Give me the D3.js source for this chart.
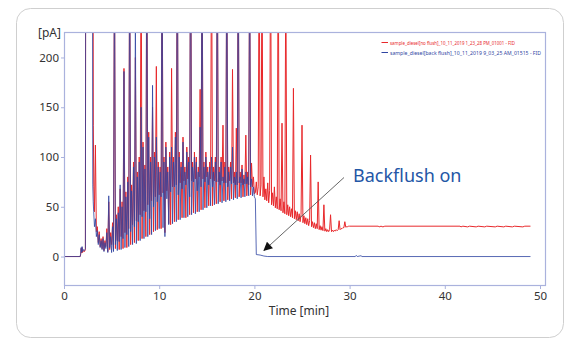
<!DOCTYPE html>
<html><head><meta charset="utf-8">
<script src="https://cdn.jsdelivr.net/npm/d3@7"></script>
<style>body{margin:0;background:#fff;} svg{display:block;font-family:"Noto Sans",sans-serif;}</style>
</head><body><svg id="c" width="582" height="348"></svg>
<script>
// ---------- data ----------
const yTicks = [0, 50, 100, 150, 200];
const xTicks = [0, 10, 20, 30, 40, 50];
const yUnit = "[pA]";
const xTitle = "Time [min]";
const seriesNames = [
  "sample_diesel[no flush]_10_11_2019 1_23_28 PM_01001 - FID",
  "sample_diesel[back flush]_10_11_2019 9_03_25 AM_01515 - FID"
];
const annotation = "Backflush on";

// start of run (time [min], signal [pA]); off-scale solvent peak
const redPre = [[0,0],[1.7,0],[1.75,2],[1.8,8],[1.85,4],[1.9,9],[1.95,4],[2.05,6],[2.15,5],[2.25,7],[2.28,400],[3.04,400],[3.08,132],[3.13,70]];
const bluePre = [[0,0],[1.7,0],[1.75,3],[1.8,9],[1.85,4],[1.9,10],[1.95,5],[2.05,7],[2.15,6],[2.25,8],[2.28,400],[2.98,400],[3.02,72],[3.07,55],[3.12,45]];

// hydrocarbon "forest" 3.2 - 20.0 min
const forestTimes = [
  3.2,3.3,3.4,3.5,3.6,3.7,3.8,3.9,4.0,4.1,
  4.2,4.3,4.4,4.5,4.6,4.7,4.8,4.9,5.0,5.1,
  5.2,5.3,5.4,5.5,5.6,5.7,5.8,5.9,6.0,6.1,
  6.2,6.3,6.4,6.5,6.6,6.7,6.8,6.9,7.0,7.1,
  7.2,7.3,7.4,7.5,7.6,7.7,7.8,7.9,8.0,8.1,
  8.2,8.3,8.4,8.5,8.6,8.7,8.8,8.9,9.0,9.1,
  9.2,9.3,9.4,9.5,9.6,9.7,9.8,9.9,10.0,10.1,
  10.2,10.3,10.4,10.5,10.6,10.7,10.8,10.9,11.0,11.1,
  11.2,11.3,11.4,11.5,11.6,11.7,11.8,11.9,12.0,12.1,
  12.2,12.3,12.4,12.5,12.6,12.7,12.8,12.9,13.0,13.1,
  13.2,13.3,13.4,13.5,13.6,13.7,13.8,13.9,14.0,14.1,
  14.2,14.3,14.4,14.5,14.6,14.7,14.8,14.9,15.0,15.1,
  15.2,15.3,15.4,15.5,15.6,15.7,15.8,15.9,16.0,16.1,
  16.2,16.3,16.4,16.5,16.6,16.7,16.8,16.9,17.0,17.1,
  17.2,17.3,17.4,17.5,17.6,17.7,17.8,17.9,18.0,18.1,
  18.2,18.3,18.4,18.5,18.6,18.7,18.8,18.9,19.0,19.1,
  19.2,19.3,19.4,19.5,19.6,19.7,19.8,19.9,20.0
];
const redForest = [
  45,112,25,30,14,25,10,18,8,20,
  6,16,10,28,5,55,7,24,12,34,
  6,310,8,42,16,50,7,68,20,55,
  8,189,24,65,9,80,28,320,12,72,
  32,95,14,200,36,85,16,100,42,330,
  18,115,46,92,20,330,52,125,22,100,
  56,150,25,105,60,191,27,95,62,90,
  28,340,64,100,24,115,66,90,33,105,
  32,189,70,100,35,125,72,350,37,105,
  74,95,39,120,76,90,39,110,78,100,
  42,370,76,95,44,105,78,100,45,90,
  80,168,47,340,78,95,49,105,80,90,
  51,95,78,330,51,90,76,100,53,330,
  75,90,55,100,76,132,56,95,74,320,
  57,90,76,95,58,188,74,85,59,129,
  72,320,60,85,74,92,60,82,73,122,
  61,85,72,310,62,94,70,80,63
];
const blueForest = [
  30,38,20,26,12,22,9,16,7,18,
  5,14,8,24,4,61,9,20,4,30,
  5,320,12,38,6,44,15,72,7,50,
  18,186,9,60,22,75,10,330,25,66,
  12,90,30,240,13,80,35,95,16,150,
  40,110,18,88,45,340,20,120,38,95,
  22,172,50,100,26,120,55,90,28,85,
  60,350,29,95,20,110,58,85,32,100,
  65,110,33,95,70,120,35,360,62,100,
  37,90,68,115,39,85,72,105,40,95,
  60,380,42,90,75,100,43,95,66,85,
  45,130,70,350,47,90,75,100,49,85,
  72,90,51,100,70,85,52,95,75,340,
  53,85,72,95,54,80,74,90,55,330,
  70,85,56,90,73,110,57,80,72,85,
  58,330,74,80,59,88,72,78,60,85,
  73,80,61,320,70,78,61,70,60
];

// no-flush run keeps eluting after 20 min
const redTail = [
  [20.1,64],[20.2,75],[20.3,62],[20.4,70],[20.5,330],[20.6,61],[20.7,72],[20.8,320],[20.9,60],[21.0,80],
  [21.1,57],[21.2,68],[21.3,56],[21.4,74],[21.5,54],[21.6,66],[21.7,330],[21.8,52],[21.9,64],[22.0,51],
  [22.1,70],[22.2,49],[22.3,60],[22.4,48],[22.5,330],[22.6,47],[22.7,58],[22.8,46],[22.9,134],[23.0,44],
  [23.1,55],[23.2,43],[23.3,300],[23.4,42],[23.5,52],[23.6,41],[23.7,50],[23.8,40],[23.9,48],[24.0,39],
  [24.1,169],[24.2,38],[24.3,46],[24.4,37],[24.5,45],[24.6,36],[24.7,43],[24.8,35],[24.9,42],[25.0,132],
  [25.1,34],[25.2,41],[25.3,33],[25.4,39],[25.5,32],[25.6,38],[25.7,31],[25.8,36],[25.9,102],[26.0,30],
  [26.1,35],[26.2,29],[26.3,34],[26.4,28],[26.5,33],[26.6,28],[26.7,75],[26.8,27],[26.9,31],[27.0,26.5],
  [27.1,30],[27.2,26],[27.3,52],[27.4,25.5],[27.5,28],[27.6,25],[27.7,27],[27.8,25],[27.9,27],[28.0,42],
  [28.1,25],[28.2,26.5],[28.3,25],[28.4,26.5],[28.5,25.5],[28.6,27],[28.7,26],[28.8,27],[28.9,36],[29.0,27],
  [29.1,28],[29.2,28],[29.3,29],[29.4,29],[29.5,35],[29.6,29.5],[29.7,30],[29.8,30],[29.9,30.5],[30.0,30.5],
  [33.0,30.5],[33.1,29.8],[33.3,30.5],[33.5,29.8],[33.7,30.5],[41.6,30.5],[41.7,29.8],[41.9,30.5],[42.4,29.8],[42.6,30.5],
  [43.3,29.8],[43.5,30.5],[44.2,29.8],[44.4,30.5],[45.3,29.8],[45.5,30.5],[46.2,29.8],[46.4,30.5],[47.1,29.8],[47.3,30.5],
  [48.2,29.8],[48.4,30.5],[49.0,30.5]
];
// backflush run: signal drops at 20.1 min
const blueTail = [[20.1,58],[20.2,2],[20.6,1.5],[21.0,0.5],[21.4,0],[30.6,0],[30.7,1.2],[30.8,0],[31.2,0.8],[31.3,0],[49.0,0]];

// ---------- chart ----------
const svg = d3.select("#c");
const mLeft = 64, mRight = 546, mTop = 32, mBottom = 286;

svg.append("rect").attr("x", 16.5).attr("y", 8.5).attr("width", 547).attr("height", 329)
  .attr("rx", 14).attr("fill", "#fff").attr("stroke", "#cfcfcf").attr("stroke-width", 1);

const x = d3.scaleLinear().domain([0, 50.63]).range([mLeft, mRight]);
const y = d3.scaleLinear().domain([-29.6, 225.6]).range([mBottom, mTop]);

const defs = svg.append("defs");
defs.append("clipPath").attr("id", "clip")
  .append("rect").attr("x", mLeft).attr("y", mTop).attr("width", mRight - mLeft).attr("height", mBottom - mTop);

const axisColor = "#aab2dd";

const gx = svg.append("g").attr("transform", `translate(0,${mBottom})`)
  .call(d3.axisBottom(x).tickValues(xTicks).tickSize(3).tickPadding(3).tickFormat(d3.format("d")));
const gy = svg.append("g").attr("transform", `translate(${mLeft},0)`)
  .call(d3.axisLeft(y).tickValues(yTicks).tickSize(3).tickPadding(2).tickFormat(d3.format("d")));
[gx, gy].forEach(g => {
  g.select(".domain").remove();
  g.selectAll(".tick line").attr("stroke", axisColor);
  g.selectAll(".tick text").attr("fill", "#333").style("font-size", "11.5px").style("font-family", '"Noto Sans",sans-serif');
});

const redData = redPre.concat(forestTimes.map((t, i) => [t, redForest[i]]), redTail);
const blueData = bluePre.concat(forestTimes.map((t, i) => [t, blueForest[i]]), blueTail);

const line = d3.line().x(d => x(d[0])).y(d => y(d[1]));
const plot = svg.append("g").attr("clip-path", "url(#clip)");
plot.append("path").datum(redData).attr("d", line).attr("fill", "none")
  .attr("stroke", "#e8282b").attr("stroke-width", 1).attr("stroke-linejoin", "round");
plot.append("path").datum(blueData).attr("d", line).attr("fill", "none")
  .attr("stroke", "#2f45a2").attr("stroke-width", 1).attr("stroke-opacity", 0.8).attr("stroke-linejoin", "round");

svg.append("rect").attr("x", mLeft + 0.5).attr("y", mTop + 0.5).attr("width", mRight - mLeft - 1).attr("height", mBottom - mTop - 1)
  .attr("fill", "none").attr("stroke", axisColor).attr("stroke-width", 1.2);

svg.append("text").attr("x", 61).attr("y", 37).attr("text-anchor", "end")
  .attr("fill", "#333").style("font-size", "12px").text(yUnit);
svg.append("text").attr("x", 299).attr("y", 315).attr("text-anchor", "middle")
  .attr("fill", "#333").style("font-size", "12px").text(xTitle);

// legend
const legColors = ["#e8282b", "#2f45a2"];
const legLen = [125, 151];
seriesNames.forEach((s, i) => {
  const yy = 42.5 + i * 10;
  svg.append("line").attr("x1", 381.5).attr("x2", 388).attr("y1", yy).attr("y2", yy)
    .attr("stroke", legColors[i]).attr("stroke-width", 1);
  svg.append("text").attr("x", 390).attr("y", yy + 2).attr("fill", legColors[i])
    .attr("textLength", legLen[i]).attr("lengthAdjust", "spacingAndGlyphs")
    .style("font-size", "6px").text(s);
});

// annotation
defs.append("marker").attr("id", "ah").attr("viewBox", "0 0 10 10")
  .attr("refX", 9).attr("refY", 5).attr("markerWidth", 10).attr("markerHeight", 9)
  .attr("markerUnits", "userSpaceOnUse").attr("orient", "auto")
  .append("path").attr("d", "M0,0 L10,5 L0,10 Z").attr("fill", "#111");
svg.append("line").attr("x1", 344).attr("y1", 177.5).attr("x2", 264).attr("y2", 250.5)
  .attr("stroke", "#555").attr("stroke-width", 0.9).attr("marker-end", "url(#ah)");
svg.append("text").attr("x", 353).attr("y", 182).attr("fill", "#2356a6")
  .style("font-size", "18px").text(annotation);
</script></body></html>
